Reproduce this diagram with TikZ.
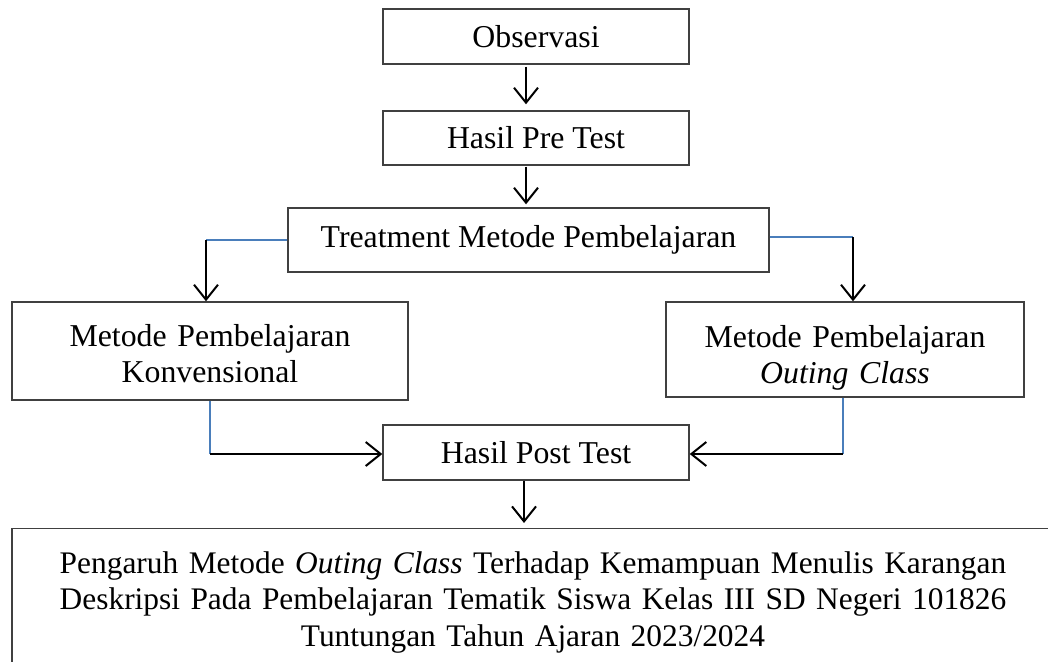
\documentclass[tikz,border=0pt]{standalone}
\usepackage{fontspec}
\setmainfont{Liberation Serif}
\usetikzlibrary{arrows.meta}
\definecolor{boxgray}{HTML}{404040}
\definecolor{linkblue}{HTML}{4A7EBB}
\tikzset{
  box/.style={draw=boxgray, line width=1.4pt, inner sep=0pt, align=center,
    font=\fontsize{31.8}{36.5}\selectfont},
  arr/.style={draw=black, line width=2pt, -{Straight Barb[length=15pt,width=24pt]}},
  bluelink/.style={draw=linkblue, line width=1.5pt}
}
\begin{document}
\begin{tikzpicture}[x=1pt,y=-1pt]
\useasboundingbox (0,0) rectangle (1048,661);
\clip (0,0) rectangle (1048,661);
\node[box, minimum width=306pt, minimum height=55pt] (obs) at (536,36.5) {Observasi};
\node[box, minimum width=306pt, minimum height=54pt] (pre) at (536,138) {Hasil Pre Test};
\node[box, minimum width=481pt, minimum height=64pt] (treat) at (528.5,240) {Treatment Metode Pembelajaran};
\node[box, minimum width=396pt, text width=396pt, minimum height=98pt, text height=22pt, text depth=32pt] (konv) at (210,351) {Metode Pembelajaran\\Konvensional};
\node[box, minimum width=358pt, text width=358pt, minimum height=95pt, text height=22pt, text depth=27pt] (out) at (845,349.5) {Metode Pembelajaran\\\textit{Outing Class}};
\node[box, minimum width=306pt, minimum height=55pt] (post) at (536,452.5) {Hasil Post Test};
\node[box, font=\fontsize{31.4}{36.5}\selectfont, anchor=north, minimum width=1042pt, text width=1042pt, inner ysep=23pt, text depth=110pt] (res) at (533,528)
  {Pengaruh Metode \textit{Outing Class} Terhadap Kemampuan Menulis Karangan\\Deskripsi Pada Pembelajaran Tematik Siswa Kelas III SD Negeri 101826\\Tuntungan Tahun Ajaran 2023/2024};
\coordinate (xa) at (526,0);
\coordinate (xb) at (524,0);
\coordinate (tl) at (206,240);
\coordinate (tr) at (853,237);
\coordinate (bl) at (210,454);
\coordinate (br) at (843,454);
\draw[arr, shorten >=6pt, shorten <=2pt] (obs.south -| xa) -- (pre.north -| xa);
\draw[arr, shorten >=3pt, shorten <=1pt] (pre.south -| xa) -- (treat.north -| xa);
\draw[bluelink] (treat.west |- tl) -- (tl);
\draw[arr] (tl) -- (konv.north -| tl);
\draw[bluelink] (treat.east |- tr) -- (tr);
\draw[arr] (tr) -- (out.north -| tr);
\draw[bluelink] (konv.south -| bl) -- (bl);
\draw[arr] (bl) -- (post.west |- bl);
\draw[bluelink] (out.south -| br) -- (br);
\draw[arr] (br) -- (post.east |- br);
\draw[arr, shorten >=5pt] (post.south -| xb) -- (res.north -| xb);
\end{tikzpicture}
\end{document}
